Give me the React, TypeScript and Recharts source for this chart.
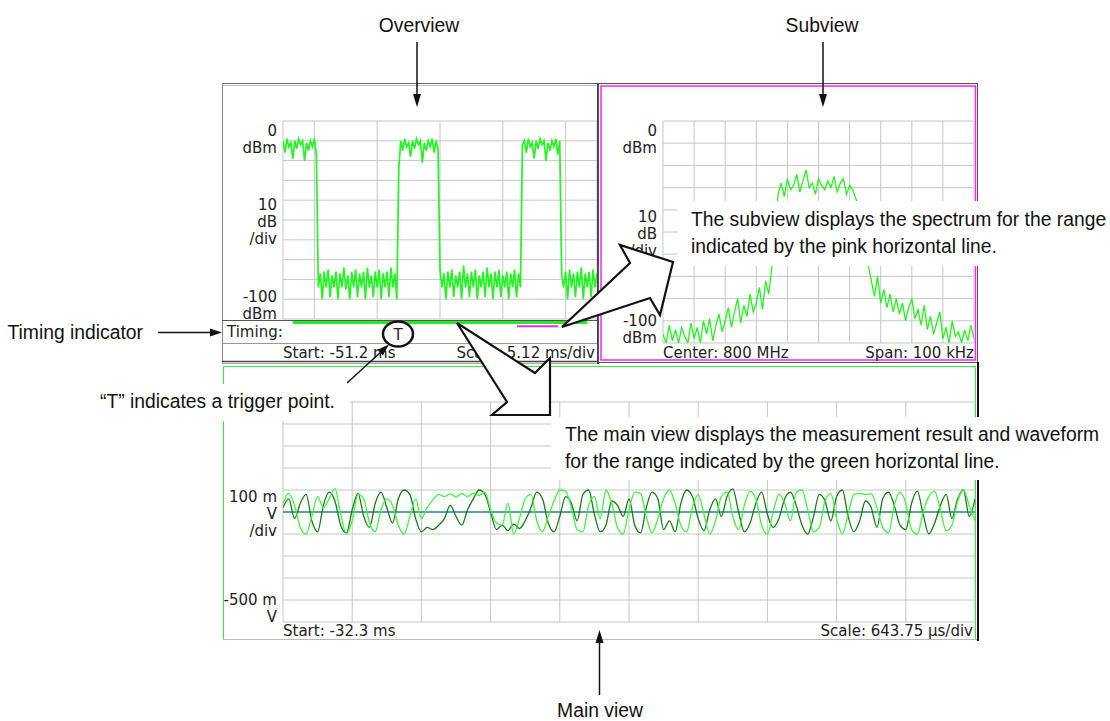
import React from "react";
import { CartesianGrid, Line, LineChart, ReferenceLine, XAxis, YAxis } from "recharts";

// overview: level vs time, -51.2 ms .. 0 ms, one sample every 0.32 ms
const overviewTimeTicks = [-51.2, -46.08, -40.96, -35.84, -30.72, -25.6, -20.48, -15.36, -10.24, -5.12, 0];
const overviewStart = -51.2;
const overviewStep = 0.32;
const overviewLevel = [
  // burst 1
  -10, -16, -9, -13, -11, -19, -10, -14, -9, -12, -10, -20, -11, -15, -10, -13, -9, -17,
  // off 1
  -84, -77, -90, -76, -84, -75, -89, -78, -84, -76, -90, -77, -84, -74, -85, -78, -90, -76, -84, -75,
  -89, -77, -84, -76, -90, -74, -84, -78, -89, -76, -84, -75, -90, -77, -84, -76, -89, -74, -84, -77, -90,
  // burst 2
  -24, -10, -15, -9, -13, -11, -18, -10, -14, -9, -12, -10, -21, -11, -15, -10, -13, -9, -16, -10, -14,
  // off 2
  -75, -84, -77, -90, -76, -84, -75, -89, -78, -84, -76, -90, -73, -84, -77, -89, -76, -84, -75, -90,
  -78, -84, -76, -89, -74, -84, -77, -90, -76, -84, -75, -89, -78, -84, -76, -90, -77, -84, -75, -89, -77, -84,
  // burst 3
  -12, -10, -16, -9, -13, -11, -19, -10, -14, -9, -12, -10, -20, -11, -15, -10, -13, -9, -17, -10,
  // off 3
  -78, -84, -76, -90, -75, -84, -77, -89, -76, -84, -74, -90, -77, -84, -76, -89, -75, -84, -77,
];
// timing bars under the overview (ms)
const mainRange = [-49.6, -1.6];
const subRange = [-13.05, -6.36];

// subview: spectrum, offset from 800 MHz in kHz, 1 kHz steps
const levelTicks = [-100, -90, -80, -70, -60, -50, -40, -30, -20, -10, 0];
const spectrumTicks = [-50, -40, -30, -20, -10, 0, 10, 20, 30, 40, 50];
const spectrumLevel = [
  -96, -100, -92, -99, -94, -100, -93, -97, -100, -91,
  -98, -93, -100, -90, -96, -89, -99, -92, -87, -95,
  -90, -84, -93, -86, -80, -91, -83, -88, -78, -86,
  -82, -75, -85, -72, -78, -66, -55,
  -33, -28, -34, -26, -31, -29, -24, -32, -27, -22, -30, -28, -33,
  -26, -29, -31, -27, -30, -25, -32, -28, -26, -33, -29, -31, -35,
  -38, -50, -62,
  -65, -72, -79, -70, -82, -76, -84, -78, -86, -80,
  -87, -82, -90, -84, -80, -89, -85, -92, -83, -94,
  -88, -96, -91, -86, -98, -93, -100, -90, -97, -95,
  -100, -94, -99, -92, -98,
];

// main view: two traces in mV, 12 samples per division
const voltTicks = [-500, -400, -300, -200, -100, 0, 100, 200, 300, 400, 500];
const mainDivTicks = [0, 12, 24, 36, 48, 60, 72, 84, 96, 108, 120];
const mainLight = [
  40, 85, 30, -70, -100, -20, 70, 20, 60, 106,
  -10, -100, -40, 80, 60, -50, -90, 10, 60, 30,
  -60, -100, -20, 60, -30, 20, 55, 80, 70, 82,
  68, 84, 70, 86, 75, 90, 10, -50, -60, 40,
  -100, -30, 60, 80, -40, -90, -20, 50, 100, 95,
  20, -80, -90, 30, 70, -30, 100, 40, -70, -100,
  10, 90, 85, -20, -95, -30, 60, 100, 40, -60,
  -90, 20, 80, -10, -100, -40, 70, 90, -20, -80,
  30, 95, 60, -60, -100, 0, 80, 40, -40, 90,
  100, 10, -90, -70, 50, 85, -30, -100, -10, 80,
  85, 80, 82, 20, -70, -95, 30, 90, 40, -80,
  -100, 0, 70, 95, 10, -85, -60, 50, 100, 30, -40,
];
const mainDark = [
  20, 60, -30, 40, 80, -40, -90, 30, 90, 50,
  -60, -95, 10, 85, -20, -70, 40, 90, 20, -50,
  60, 100, 80, -30, -90, -70, -80, -60, -30, 30,
  -20, -60, 10, 60, 100, 80, 0, -80, -60, -85,
  -55, -75, -40, 20, 90, 60, -50, -90, -20, 70,
  40, -40, 80, 100, -10, -90, -60, 50, 30, -20,
  60, -60, -95, 20, 90, 60, -80, -40, -90, 40,
  100, 70, -30, -85, 10, 60, -20, 70, 105, 0,
  -90, -50, 40, 90, -10, -70, -30, 60, 90, 30,
  -60, -100, -20, 80, 50, -40, 70, 100, -20, -90,
  -40, 50, 20, -70, 60, 90, 30, -60, -80, 40,
  95, -10, -100, -50, 30, 80, -30, 60, 100, -20, 60,
];

// scale captions at the left of each graticule
const levelCaptions: Record<number, string[]> = { 0: ["0", "dBm"], [-50]: ["10", "dB", "/div"], [-100]: ["-100", "dBm"] };
const voltCaptions: Record<number, string[]> = { 0: ["100 m", "V", "/div"], [-500]: ["-500 m", "V"] };

const overviewData = overviewLevel.map((dbm, i) => ({
  t: Math.round((overviewStart + i * overviewStep) * 100) / 100,
  dbm,
}));
const spectrumData = spectrumLevel.map((dbm, i) => ({ f: i - 50, dbm }));
const mainData = mainLight.map((v, i) => ({ n: i, light: v, dark: mainDark[i] }));

const SCREEN_FONT = '"DejaVu Sans", Verdana, sans-serif';
const NOTE_FONT = '"Liberation Sans", Arial, Helvetica, sans-serif';
const GRID = "#c6c6c6";

function captionTick(captions: Record<number, string[]>, top: number, bottom: number) {
  return (props: any) => {
    const { x, y, payload } = props;
    const lines = captions[payload.value];
    if (!lines) return <g />;
    let first = y - 10;
    if (payload.value === top) first = y + 14.5;
    if (payload.value === bottom) first = y - 17 * (lines.length - 1);
    return (
      <text x={x} y={first} textAnchor="end" fontFamily={SCREEN_FONT} fontSize={15} fill="#222">
        {lines.map((l, i) => (
          <tspan key={i} x={x} y={first + i * 17}>
            {l}
          </tspan>
        ))}
      </text>
    );
  };
}

function Note({ x, y, anchor = "start", children }: { x: number; y: number; anchor?: string; children: React.ReactNode }) {
  return (
    <text
      transform={`translate(${x} ${y}) scale(0.92 1)`}
      textAnchor={anchor as any}
      fontFamily={NOTE_FONT}
      fontSize={21}
      fill="#111"
    >
      {children}
    </text>
  );
}

function Screen({ x, y, anchor = "start", children }: { x: number; y: number; anchor?: string; children: React.ReactNode }) {
  return (
    <text x={x} y={y} textAnchor={anchor as any} fontFamily={SCREEN_FONT} fontSize={15} fill="#222">
      {children}
    </text>
  );
}

export default function App() {
  return (
    <div style={{ position: "absolute", left: 0, top: 0, width: 1110, height: 721, background: "#fff", overflow: "hidden" }}>
      {/* overview */}
      <div style={{ position: "absolute", left: 222, top: 100 }}>
        <LineChart width={375} height={240} data={overviewData} margin={{ top: 21, right: 0, bottom: 21, left: 0 }}>
          <CartesianGrid stroke={GRID} />
          <XAxis type="number" dataKey="t" domain={[-51.2, 0]} ticks={overviewTimeTicks} allowDataOverflow hide />
          <YAxis
            type="number"
            domain={[-100, 0]}
            ticks={levelTicks}
            interval={0}
            width={61}
            allowDataOverflow
            axisLine={false}
            tickLine={false}
            tickSize={0}
            tickMargin={6}
            tick={captionTick(levelCaptions, 0, -100)}
          />
          <ReferenceLine
            segment={[{ x: mainRange[0], y: -101.8 }, { x: mainRange[1], y: -101.8 }]}
            stroke="#22ee22"
            strokeWidth={3}
            ifOverflow="visible"
          />
          <ReferenceLine
            segment={[{ x: subRange[0], y: -103.6 }, { x: subRange[1], y: -103.6 }]}
            stroke="#ff22ff"
            strokeWidth={2}
            ifOverflow="visible"
          />
          <Line type="linear" dataKey="dbm" stroke="#22f522" strokeWidth={1.7} dot={false} isAnimationActive={false} />
        </LineChart>
      </div>

      {/* subview */}
      <div style={{ position: "absolute", left: 602, top: 100 }}>
        <LineChart width={372} height={258} data={spectrumData} margin={{ top: 21, right: 0, bottom: 15, left: 0 }}>
          <CartesianGrid stroke={GRID} />
          <XAxis type="number" dataKey="f" domain={[-50, 50]} ticks={spectrumTicks} allowDataOverflow hide />
          <YAxis
            type="number"
            domain={[-100, 0]}
            ticks={levelTicks}
            interval={0}
            width={61}
            allowDataOverflow
            axisLine={false}
            tickLine={false}
            tickSize={0}
            tickMargin={6}
            tick={captionTick(levelCaptions, 0, -100)}
          />
          <Line type="linear" dataKey="dbm" stroke="#22f522" strokeWidth={1.3} dot={false} isAnimationActive={false} />
        </LineChart>
      </div>

      {/* main view */}
      <div style={{ position: "absolute", left: 223, top: 380 }}>
        <LineChart width={752} height={260} data={mainData} margin={{ top: 22, right: 0, bottom: 18, left: 0 }}>
          <CartesianGrid stroke={GRID} />
          <XAxis type="number" dataKey="n" domain={[0, 120]} ticks={mainDivTicks} allowDataOverflow hide />
          <YAxis
            type="number"
            domain={[-500, 500]}
            ticks={voltTicks}
            interval={0}
            width={60}
            allowDataOverflow
            axisLine={false}
            tickLine={false}
            tickSize={0}
            tickMargin={6}
            tick={captionTick(voltCaptions, 500, -500)}
          />
          <ReferenceLine y={0} stroke="#2e8b8b" strokeWidth={1.3} />
          <Line type="monotone" dataKey="dark" stroke="#167a16" strokeWidth={1.3} dot={false} isAnimationActive={false} />
          <Line type="monotone" dataKey="light" stroke="#3df53d" strokeWidth={1.3} dot={false} isAnimationActive={false} />
        </LineChart>
      </div>

      <svg width={1110} height={721} style={{ position: "absolute", left: 0, top: 0, pointerEvents: "none" }}>
        {/* overview frame */}
        <line x1={222} y1={83.5} x2={598} y2={83.5} stroke="#666" />
        <line x1={222} y1={85.5} x2={598} y2={85.5} stroke="#bbb" />
        <line x1={222.5} y1={83} x2={222.5} y2={364} stroke="#888" />
        <line x1={222} y1={320.5} x2={597} y2={320.5} stroke="#555" />
        <line x1={222} y1={343.5} x2={597} y2={343.5} stroke="#999" />
        <line x1={222} y1={361.5} x2={598} y2={361.5} stroke="#444" strokeWidth={1.5} />
        <line x1={222} y1={363.5} x2={598} y2={363.5} stroke="#aaa" />
        <line x1={598} y1={83} x2={598} y2={364} stroke="#444" strokeWidth={2} />
        <Screen x={227} y={337}>Timing:</Screen>
        <Screen x={283} y={358}>Start: -51.2 ms</Screen>
        <Screen x={595} y={358} anchor="end">Scale: 5.12 ms/div</Screen>

        {/* subview frame */}
        <rect x={598.5} y={83.5} width={379} height={279} fill="none" stroke="#555" />
        <rect x={601} y={86} width={374.5} height={274} fill="none" stroke="#ff22ff" strokeWidth={1.5} />
        <Screen x={663} y={358}>Center: 800 MHz</Screen>
        <Screen x={974} y={358} anchor="end">Span: 100 kHz</Screen>

        {/* main frame */}
        <polyline points="223.5,640 223.5,366.5 975.5,366.5 975.5,640" stroke="#33ee33" fill="none" />
        <line x1={223} y1={639.5} x2={978} y2={639.5} stroke="#bbb" />
        <line x1={978} y1={362} x2={978} y2={641} stroke="#111" strokeWidth={2} />
        <Screen x={283} y={636}>Start: -32.3 ms</Screen>
        <Screen x={973} y={636} anchor="end">Scale: 643.75 µs/div</Screen>

        {/* white boxes behind the notes */}
        <rect x={85} y={384} width={265} height={37} fill="#fff" />
        <rect x={678} y={201} width={432} height={65} fill="#fff" />
        <rect x={551} y={417} width={559} height={63} fill="#fff" />

        {/* notes */}
        <Note x={419} y={32} anchor="middle">Overview</Note>
        <Note x={822} y={32} anchor="middle">Subview</Note>
        <Note x={143} y={339} anchor="end">Timing indicator</Note>
        <Note x={100} y={408}>“T” indicates a trigger point.</Note>
        <Note x={691} y={226}>The subview displays the spectrum for the range</Note>
        <Note x={691} y={253}>indicated by the pink horizontal line.</Note>
        <Note x={565} y={441}>The main view displays the measurement result and waveform</Note>
        <Note x={565} y={468}>for the range indicated by the green horizontal line.</Note>
        <Note x={600} y={717} anchor="middle">Main view</Note>

        {/* pointer arrows */}
        <line x1={417} y1={42} x2={417} y2={96} stroke="#111" strokeWidth={1.5} />
        <polygon points="413,94 421,94 417,107" fill="#111" />
        <line x1={823} y1={42} x2={823} y2={96} stroke="#111" strokeWidth={1.5} />
        <polygon points="819,94 827,94 823,107" fill="#111" />
        <line x1={599.5} y1={695} x2={599.5} y2={641} stroke="#111" strokeWidth={1.5} />
        <polygon points="595.5,643 603.5,643 599.5,630" fill="#111" />
        <line x1={158} y1={332.5} x2={212} y2={332.5} stroke="#111" strokeWidth={1.5} />
        <polygon points="210,328.5 210,336.5 222,332.5" fill="#111" />
        <line x1={347} y1={383} x2={382} y2={351} stroke="#111" strokeWidth={1.5} />
        <polygon points="382.9,355.6 377.5,349.8 389,344.5" fill="#111" />

        {/* callout wedges */}
        <polygon
          points="562,327 630,263 620,245 673,262 660,315 650,298"
          fill="#fff"
          stroke="#111"
          strokeWidth={2.2}
          strokeLinejoin="miter"
        />
        <polygon
          points="457,323 535,373 550,358 550,415 492,415 507,402"
          fill="#fff"
          stroke="#111"
          strokeWidth={2.2}
          strokeLinejoin="miter"
        />

        {/* trigger marker */}
        <ellipse cx={398} cy={334} rx={15} ry={12.5} fill="#fff" stroke="#111" strokeWidth={2.5} />
        <Screen x={398} y={339.5} anchor="middle">T</Screen>
      </svg>
    </div>
  );
}
